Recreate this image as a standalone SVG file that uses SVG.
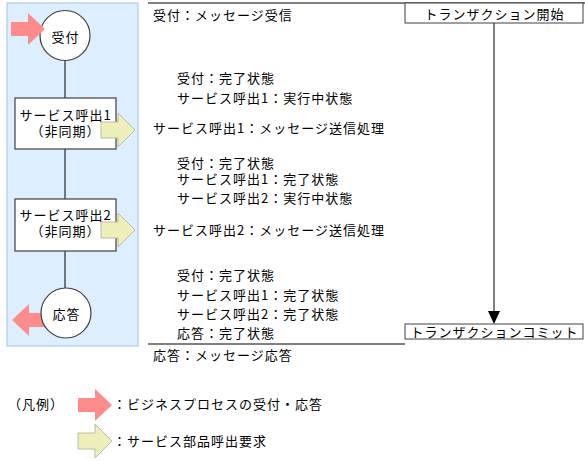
<svg xmlns="http://www.w3.org/2000/svg" width="585" height="461" viewBox="0 0 585 461">
<style>
text{font-family:"Noto Sans CJK JP","Noto Sans",sans-serif;font-size:13px;letter-spacing:1px;fill:#000;dominant-baseline:central}
.c{text-anchor:middle}
.ln{stroke:#000;stroke-width:1;fill:none}
.node{fill:#fff;stroke:#404040;stroke-width:1.2}
.red{fill:#FF8C8C;stroke:none}
.yel{fill:#EEEEBB;stroke:#BDBDA0;stroke-width:1}
.sep{stroke:#808080;stroke-width:2;fill:none}
.tbox{fill:#fff;stroke:#404040;stroke-width:1}
</style>
<defs>
<path id="arr" d="M0,-7H17V-16L34,0L17,16V7H0Z"/>
<path id="arrY" d="M0,-8H17V-17L34,0L17,17V8H0Z"/>
</defs>
<rect x="7" y="3" width="131" height="343" fill="#DDEEFF" stroke="#A8CCF0" stroke-width="1.2"/>
<g id="connectors">
<line class="ln" x1="65" y1="61" x2="65" y2="98"/>
<line class="ln" x1="65" y1="149" x2="65" y2="199"/>
<line class="ln" x1="65" y1="251" x2="65" y2="288"/>
<line class="ln" x1="494" y1="23" x2="494" y2="311"/>
<path d="M488,311L500,311L494,324Z" fill="#000"/>
</g>
<g id="arrow-out">
<use href="#arr" class="red" transform="translate(46,320) scale(-1,1)"/>
</g>
<g id="node-uketsuke">
<circle class="node" cx="65" cy="35.5" r="25"/>
<text class="c" x="65.5" y="36">受付</text>
</g>
<g id="arrow-in">
<use href="#arr" class="red" transform="translate(11,29)"/>
</g>
<g id="node-call1">
<rect class="node" x="15" y="98" width="101" height="51"/>
<text class="c" x="65.5" y="114.5">サービス呼出1</text>
<text class="c" x="65.5" y="130.5">（非同期）</text>
<use href="#arrY" class="yel" transform="translate(101,130)"/>
</g>
<g id="node-call2">
<rect class="node" x="15" y="199" width="101" height="52"/>
<text class="c" x="65.5" y="214.5">サービス呼出2</text>
<text class="c" x="65.5" y="230.5">（非同期）</text>
<use href="#arrY" class="yel" transform="translate(101,230)"/>
</g>
<g id="node-outou">
<circle class="node" cx="66" cy="313" r="25"/>
<text class="c" x="66.5" y="313">応答</text>
</g>
<line class="sep" x1="148" y1="3" x2="585" y2="3"/>
<line class="sep" x1="148" y1="344" x2="405" y2="344"/>
<g id="tx-start">
<rect class="tbox" x="405" y="3" width="178" height="20"/>
<text class="c" x="494.5" y="13.5">トランザクション開始</text>
</g>
<g id="tx-commit">
<rect class="tbox" x="405" y="324" width="178" height="15"/>
<text class="c" x="494.5" y="331.5">トランザクションコミット</text>
</g>
<g id="labels">
<text x="153" y="14">受付：メッセージ受信</text>
<text x="177" y="77">受付：完了状態</text>
<text x="177" y="97">サービス呼出1：実行中状態</text>
<text x="153" y="127">サービス呼出1：メッセージ送信処理</text>
<text x="177" y="162">受付：完了状態</text>
<text x="177" y="178">サービス呼出1：完了状態</text>
<text x="177" y="197">サービス呼出2：実行中状態</text>
<text x="153" y="229">サービス呼出2：メッセージ送信処理</text>
<text x="177" y="274">受付：完了状態</text>
<text x="177" y="294">サービス呼出1：完了状態</text>
<text x="177" y="313">サービス呼出2：完了状態</text>
<text x="177" y="332">応答：完了状態</text>
<text x="153" y="354">応答：メッセージ応答</text>
</g>
<g id="legend">
<text x="8" y="403">（凡例）</text>
<use href="#arr" class="red" transform="translate(78,405)"/>
<text x="113" y="403">：ビジネスプロセスの受付・応答</text>
<use href="#arrY" class="yel" transform="translate(78,441)"/>
<text x="113" y="440">：サービス部品呼出要求</text>
</g>
</svg>
